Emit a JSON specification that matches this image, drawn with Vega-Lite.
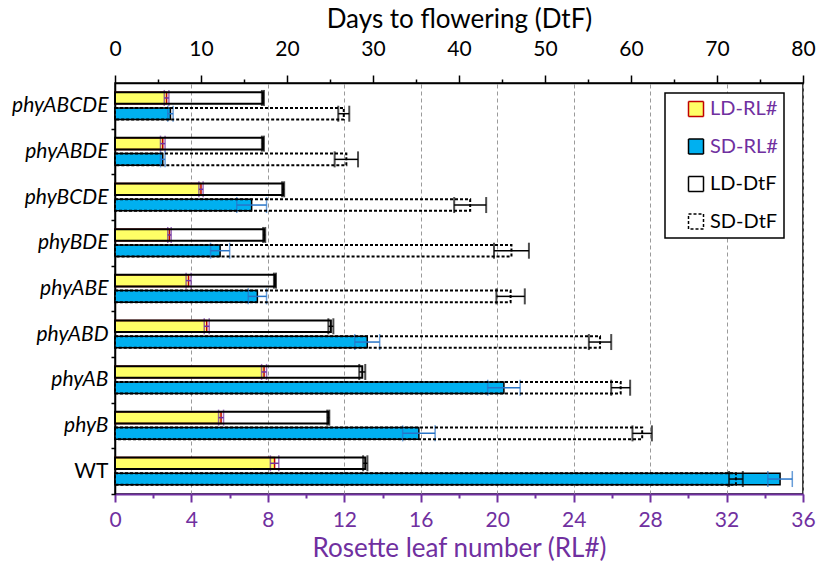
{
  "$schema": "https://vega.github.io/schema/vega-lite/v6.json",
  "width": 688,
  "height": 411,
  "autosize": "none",
  "padding": {"left": 115, "top": 83, "right": 13, "bottom": 80},
  "config": {
    "view": {"stroke": "black", "strokeWidth": 1.5},
    "font": "Lato",
    "axis": {"labelFont": "Lato", "titleFont": "Lato", "domainColor": "black", "tickColor": "black", "labelColor": "black", "titleColor": "black", "titleFontWeight": "normal", "labelFlush": false, "labelOverlap": false},
    "legend": {
      "orient": "none", "legendX": 550, "legendY": 10, "strokeColor": "black", "strokeWidth": 1.5, "fillColor": "white",
      "padding": 6, "symbolOffset": 15, "symbolType": "square", "symbolSize": 225, "symbolStrokeWidth": 1.5,
      "labelFont": "Lato", "labelFontSize": 20, "labelOffset": 4, "rowPadding": 15.5,
      "labelColor": {"expr": "indexof(['LD-RL#','SD-RL#'], datum.value) >= 0 ? '#7030A0' : 'black'"}
    }
  },
  "data": {"values": [
    {"g": "phyABCDE", "s": "LD-RL#", "d": "LD", "t": "RL", "v": 2.7, "lo": 2.58, "hi": 2.82},
    {"g": "phyABCDE", "s": "SD-RL#", "d": "SD", "t": "RL", "v": 2.9, "lo": 2.76, "hi": 3.04},
    {"g": "phyABCDE", "s": "LD-DtF", "d": "LD", "t": "DtF", "v": 17.2, "lo": 17.08, "hi": 17.32},
    {"g": "phyABCDE", "s": "SD-DtF", "d": "SD", "t": "DtF", "v": 26.6, "lo": 25.96, "hi": 27.24},
    {"g": "phyABDE", "s": "LD-RL#", "d": "LD", "t": "RL", "v": 2.5, "lo": 2.38, "hi": 2.62},
    {"g": "phyABDE", "s": "SD-RL#", "d": "SD", "t": "RL", "v": 2.5, "lo": 2.38, "hi": 2.62},
    {"g": "phyABDE", "s": "LD-DtF", "d": "LD", "t": "DtF", "v": 17.2, "lo": 17.08, "hi": 17.32},
    {"g": "phyABDE", "s": "SD-DtF", "d": "SD", "t": "DtF", "v": 26.9, "lo": 25.54, "hi": 28.26},
    {"g": "phyBCDE", "s": "LD-RL#", "d": "LD", "t": "RL", "v": 4.5, "lo": 4.39, "hi": 4.61},
    {"g": "phyBCDE", "s": "SD-RL#", "d": "SD", "t": "RL", "v": 7.15, "lo": 6.37, "hi": 7.93},
    {"g": "phyBCDE", "s": "LD-DtF", "d": "LD", "t": "DtF", "v": 19.55, "lo": 19.43, "hi": 19.67},
    {"g": "phyBCDE", "s": "SD-DtF", "d": "SD", "t": "DtF", "v": 41.3, "lo": 39.44, "hi": 43.16},
    {"g": "phyBDE", "s": "LD-RL#", "d": "LD", "t": "RL", "v": 2.85, "lo": 2.76, "hi": 2.94},
    {"g": "phyBDE", "s": "SD-RL#", "d": "SD", "t": "RL", "v": 5.5, "lo": 5.0, "hi": 6.0},
    {"g": "phyBDE", "s": "LD-DtF", "d": "LD", "t": "DtF", "v": 17.35, "lo": 17.23, "hi": 17.47},
    {"g": "phyBDE", "s": "SD-DtF", "d": "SD", "t": "DtF", "v": 46.1, "lo": 44.07, "hi": 48.13},
    {"g": "phyABE", "s": "LD-RL#", "d": "LD", "t": "RL", "v": 3.85, "lo": 3.72, "hi": 3.98},
    {"g": "phyABE", "s": "SD-RL#", "d": "SD", "t": "RL", "v": 7.45, "lo": 6.97, "hi": 7.93},
    {"g": "phyABE", "s": "LD-DtF", "d": "LD", "t": "DtF", "v": 18.6, "lo": 18.48, "hi": 18.72},
    {"g": "phyABE", "s": "SD-DtF", "d": "SD", "t": "DtF", "v": 46.0, "lo": 44.35, "hi": 47.65},
    {"g": "phyABD", "s": "LD-RL#", "d": "LD", "t": "RL", "v": 4.8, "lo": 4.67, "hi": 4.93},
    {"g": "phyABD", "s": "SD-RL#", "d": "SD", "t": "RL", "v": 13.2, "lo": 12.55, "hi": 13.85},
    {"g": "phyABD", "s": "LD-DtF", "d": "LD", "t": "DtF", "v": 25.1, "lo": 24.81, "hi": 25.39},
    {"g": "phyABD", "s": "SD-DtF", "d": "SD", "t": "DtF", "v": 56.4, "lo": 55.1, "hi": 57.7},
    {"g": "phyAB", "s": "LD-RL#", "d": "LD", "t": "RL", "v": 7.8, "lo": 7.67, "hi": 7.93},
    {"g": "phyAB", "s": "SD-RL#", "d": "SD", "t": "RL", "v": 20.35, "lo": 19.5, "hi": 21.2},
    {"g": "phyAB", "s": "LD-DtF", "d": "LD", "t": "DtF", "v": 28.75, "lo": 28.4, "hi": 29.1},
    {"g": "phyAB", "s": "SD-DtF", "d": "SD", "t": "DtF", "v": 58.8, "lo": 57.7, "hi": 59.9},
    {"g": "phyB", "s": "LD-RL#", "d": "LD", "t": "RL", "v": 5.55, "lo": 5.42, "hi": 5.68},
    {"g": "phyB", "s": "SD-RL#", "d": "SD", "t": "RL", "v": 15.9, "lo": 15.05, "hi": 16.75},
    {"g": "phyB", "s": "LD-DtF", "d": "LD", "t": "DtF", "v": 24.8, "lo": 24.68, "hi": 24.92},
    {"g": "phyB", "s": "SD-DtF", "d": "SD", "t": "DtF", "v": 61.3, "lo": 60.17, "hi": 62.43},
    {"g": "WT", "s": "LD-RL#", "d": "LD", "t": "RL", "v": 8.35, "lo": 8.13, "hi": 8.57},
    {"g": "WT", "s": "SD-RL#", "d": "SD", "t": "RL", "v": 34.8, "lo": 34.16, "hi": 35.44},
    {"g": "WT", "s": "LD-DtF", "d": "LD", "t": "DtF", "v": 29.1, "lo": 28.85, "hi": 29.35},
    {"g": "WT", "s": "SD-DtF", "d": "SD", "t": "DtF", "v": 72.2, "lo": 71.4, "hi": 73.0}
  ]},
  "encoding": {
    "y": {
      "field": "g", "type": "nominal",
      "sort": ["phyABCDE", "phyABDE", "phyBCDE", "phyBDE", "phyABE", "phyABD", "phyAB", "phyB", "WT"],
      "scale": {"paddingInner": 0.4, "paddingOuter": 0.2},
      "axis": {"title": null, "labelFontSize": 21, "labelPadding": 3, "tickSize": 4, "tickOffset": 22.8, "labelOffset": -22.8, "tickWidth": 1.5, "domainWidth": 1.5,
        "labelFontStyle": {"condition": {"test": "datum.value == 'WT'", "value": "normal"}, "value": "italic"}}
    },
    "yOffset": {"field": "d", "type": "nominal", "sort": ["LD", "SD"], "scale": {"paddingInner": 0.26}}
  },
  "layer": [
    {
      "transform": [{"filter": "datum.t == 'RL'"}],
      "mark": {"type": "bar", "strokeWidth": 1.5},
      "encoding": {
        "x": {"field": "v", "type": "quantitative", "scale": {"domain": [0, 36], "nice": false, "zero": true},
          "axis": {"orient": "bottom", "values": [0,4,8,12,16,20,24,28,32,36],
            "domainColor": "#7030A0", "domainWidth": 2, "tickColor": "#7030A0", "tickWidth": 2, "tickSize": 8,
            "labelColor": "#7030A0", "labelFontSize": 21, "labelPadding": 7,
            "title": "Rosette leaf number (RL#)", "titleColor": "#7030A0", "titleFontSize": 26, "titleY": 54, "titleBaseline": "middle",
            "grid": true, "gridDash": [4, 3], "gridWidth": 1, "gridColor": "#9a9a9a"}},
        "fill": {"field": "s", "type": "nominal", "scale": {"domain": ["LD-RL#", "SD-RL#", "LD-DtF", "SD-DtF"], "range": ["#FFFF66", "#00B0F0", "transparent", "transparent"]}, "legend": {"title": null, "labelExpr": "datum.label + '\u00a0\u00a0\u00a0\u00a0\u00a0'"}},
        "stroke": {"field": "s", "type": "nominal", "scale": {"domain": ["LD-RL#", "SD-RL#", "LD-DtF", "SD-DtF"], "range": ["#C00000", "#000000", "#000000", "#000000"]}, "legend": {"title": null, "labelExpr": "datum.label + '\u00a0\u00a0\u00a0\u00a0\u00a0'"}},
        "strokeDash": {"field": "s", "type": "nominal", "scale": {"domain": ["LD-RL#", "SD-RL#", "LD-DtF", "SD-DtF"], "range": [[1, 0], [1, 0], [1, 0], [3, 2]]}, "legend": {"title": null, "labelExpr": "datum.label + '\u00a0\u00a0\u00a0\u00a0\u00a0'"}}
      }
    },
    {
      "transform": [{"filter": "datum.t == 'RL'"}],
      "mark": {"type": "rule", "strokeWidth": 1.5},
      "encoding": {
        "x": {"field": "lo", "type": "quantitative", "scale": {"domain": [0, 36], "nice": false, "zero": true},
          "axis": {"orient": "bottom", "values": [2,6,10,14,18,22,26,30,34], "labels": false, "domain": false, "grid": false, "title": null,
            "tickColor": "#7030A0", "tickWidth": 2, "tickSize": 4}},
        "x2": {"field": "hi"},
        "color": {"field": "s", "type": "nominal", "scale": {"domain": ["LD-RL#", "SD-RL#", "LD-DtF", "SD-DtF"], "range": ["#7030A0", "#2874C8", "#000000", "#000000"]}, "legend": null}
      }
    },
    {
      "transform": [{"filter": "datum.t == 'RL'"}],
      "mark": {"type": "tick", "size": 16, "thickness": 1.5},
      "encoding": {
        "x": {"field": "lo", "type": "quantitative", "scale": {"domain": [0, 36], "nice": false, "zero": true}, "axis": null},
        "color": {"field": "s", "type": "nominal", "legend": null}
      }
    },
    {
      "transform": [{"filter": "datum.t == 'RL'"}],
      "mark": {"type": "tick", "size": 16, "thickness": 1.5},
      "encoding": {
        "x": {"field": "hi", "type": "quantitative", "scale": {"domain": [0, 36], "nice": false, "zero": true}, "axis": null},
        "color": {"field": "s", "type": "nominal", "legend": null}
      }
    },
    {
      "transform": [{"filter": "datum.t == 'DtF'"}],
      "mark": {"type": "bar", "strokeWidth": 2},
      "encoding": {
        "x": {"field": "v", "type": "quantitative", "scale": {"domain": [0, 80], "nice": false, "zero": true},
          "axis": {"orient": "top", "values": [0,10,20,30,40,50,60,70,80],
            "domainWidth": 1.5, "tickWidth": 1.5, "tickSize": 8,
            "labelFontSize": 21, "labelPadding": 16,
            "title": "Days to flowering (DtF)", "titleFontSize": 26, "titleY": -64, "titleBaseline": "middle",
            "grid": false}},
        "fill": {"field": "s", "type": "nominal", "legend": {"title": null, "labelExpr": "datum.label + '\u00a0\u00a0\u00a0\u00a0\u00a0'"}},
        "stroke": {"field": "s", "type": "nominal", "legend": {"title": null, "labelExpr": "datum.label + '\u00a0\u00a0\u00a0\u00a0\u00a0'"}},
        "strokeDash": {"field": "s", "type": "nominal", "legend": {"title": null, "labelExpr": "datum.label + '\u00a0\u00a0\u00a0\u00a0\u00a0'"}}
      }
    },
    {
      "transform": [{"filter": "datum.t == 'DtF'"}],
      "mark": {"type": "rule", "strokeWidth": 1.5},
      "encoding": {
        "x": {"field": "lo", "type": "quantitative", "scale": {"domain": [0, 80], "nice": false, "zero": true},
          "axis": {"orient": "top", "values": [5,15,25,35,45,55,65,75], "labels": false, "domain": false, "grid": false, "title": null,
            "tickWidth": 1.5, "tickSize": 4}},
        "x2": {"field": "hi"},
        "color": {"field": "s", "type": "nominal", "legend": null}
      }
    },
    {
      "transform": [{"filter": "datum.t == 'DtF'"}],
      "mark": {"type": "tick", "size": 16, "thickness": 2},
      "encoding": {
        "x": {"field": "lo", "type": "quantitative", "scale": {"domain": [0, 80], "nice": false, "zero": true}, "axis": null},
        "color": {"field": "s", "type": "nominal", "legend": null}
      }
    },
    {
      "transform": [{"filter": "datum.t == 'DtF'"}],
      "mark": {"type": "tick", "size": 16, "thickness": 2},
      "encoding": {
        "x": {"field": "hi", "type": "quantitative", "scale": {"domain": [0, 80], "nice": false, "zero": true}, "axis": null},
        "color": {"field": "s", "type": "nominal", "legend": null}
      }
    }
  ],
  "resolve": {"scale": {"x": "independent"}}
}
